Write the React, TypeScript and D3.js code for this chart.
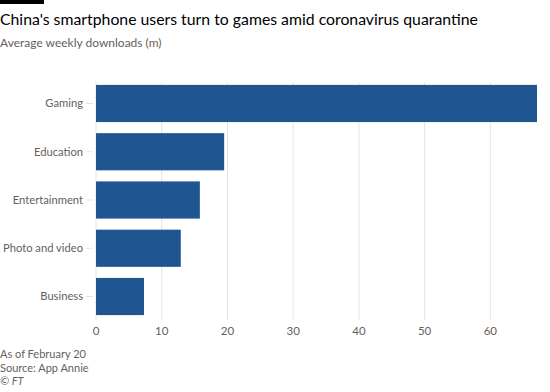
import React, { useEffect, useRef } from 'react'
import * as d3 from 'd3'

const categories: string[] = ['Gaming', 'Education', 'Entertainment', 'Photo and video', 'Business']
const downloads: number[] = [67.1, 19.5, 15.8, 12.9, 7.3]
const xTicks: number[] = [0, 10, 20, 30, 40, 50, 60]
const notes: string[] = ['As of February 20', 'Source: App Annie', '© FT']

const W = 550
const H = 392
const margin = { top: 82, right: 13, bottom: 74, left: 96 }
const font = "Lato, sans-serif"

export default function App() {
    const ref = useRef<SVGSVGElement>(null)

    useEffect(() => {
        const svg = d3.select(ref.current)
        svg.selectAll('*').remove()

        const x = d3.scaleLinear()
            .domain([0, d3.max(downloads) as number])
            .range([margin.left, W - margin.right])

        const y = d3.scaleBand<string>()
            .domain(categories)
            .range([margin.top, H - margin.bottom])
            .paddingInner(0.23)
            .paddingOuter(0.06)

        // top bar + titles
        svg.append('rect').attr('x', 0).attr('y', 0).attr('width', 44).attr('height', 4).attr('fill', '#000')
        svg.append('text')
            .attr('x', 0).attr('y', 25)
            .attr('font-size', 15.8)
            .attr('fill', '#000')
            .text("China's smartphone users turn to games amid coronavirus quarantine")
        svg.append('text')
            .attr('x', 0).attr('y', 47)
            .attr('font-size', 12)
            .attr('fill', '#66605c')
            .text('Average weekly downloads (m)')

        // grid
        const grid = svg.append('g')
        grid.selectAll('line')
            .data(xTicks)
            .enter().append('line')
            .attr('x1', d => x(d)).attr('x2', d => x(d))
            .attr('y1', margin.top).attr('y2', H - margin.bottom + 2)
            .attr('stroke', '#e6e3df')
            .attr('stroke-width', 1)

        // x axis labels
        svg.append('g').selectAll('text')
            .data(xTicks)
            .enter().append('text')
            .attr('x', d => x(d))
            .attr('y', H - margin.bottom + 17)
            .attr('text-anchor', 'middle')
            .attr('font-size', 11.5)
            .attr('fill', '#66605c')
            .text(d => d)

        // y axis
        const yAxis = svg.append('g')
        yAxis.selectAll('line')
            .data(categories)
            .enter().append('line')
            .attr('x1', margin.left - 10).attr('x2', margin.left - 3)
            .attr('y1', d => (y(d) as number) + y.bandwidth() / 2)
            .attr('y2', d => (y(d) as number) + y.bandwidth() / 2)
            .attr('stroke', '#e6e3df')
        yAxis.selectAll('text')
            .data(categories)
            .enter().append('text')
            .attr('x', margin.left - 13)
            .attr('y', d => (y(d) as number) + y.bandwidth() / 2)
            .attr('dy', '0.35em')
            .attr('text-anchor', 'end')
            .attr('font-size', 11.2)
            .attr('fill', '#66605c')
            .text(d => d)

        // bars
        svg.append('g').selectAll('rect')
            .data(categories)
            .enter().append('rect')
            .attr('x', x(0))
            .attr('y', d => y(d) as number)
            .attr('width', (_d, i) => x(downloads[i]) - x(0))
            .attr('height', y.bandwidth())
            .attr('fill', '#1f5591')

        // notes
        svg.append('g').selectAll('text')
            .data(notes)
            .enter().append('text')
            .attr('x', 0)
            .attr('y', (_d, i) => 358 + i * 13.5)
            .attr('font-size', 11)
            .attr('fill', '#66605c')
            .attr('font-style', (_d, i) => (i === 2 ? 'italic' : 'normal'))
            .text(d => d)
    }, [])

    return (
        <svg ref={ref} width={W} height={H} fontFamily={font}
            style={{ position: 'absolute', left: 0, top: 0, background: '#fff' }} />
    )
}
